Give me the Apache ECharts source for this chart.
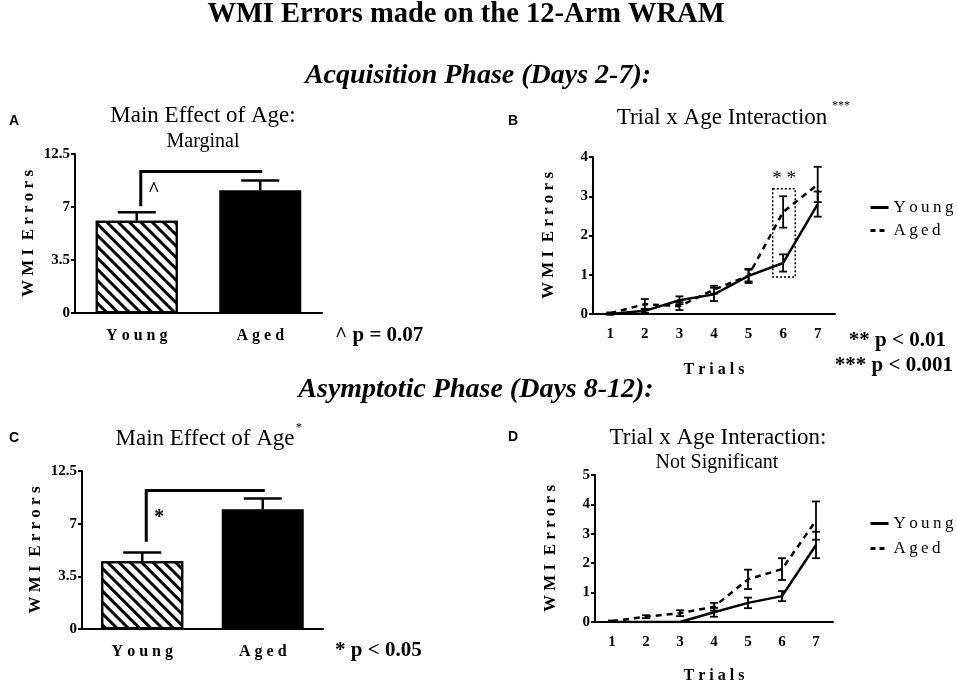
<!DOCTYPE html>
<html>
<head>
<meta charset="utf-8">
<script src="https://cdn.jsdelivr.net/npm/echarts@6/dist/echarts.min.js"></script>
<style>html,body{margin:0;padding:0;background:#fff}#chart{width:957px;height:685px}</style>
</head>
<body>
<div id="chart"></div>
<script>
// bar panels (A = acquisition, C = asymptotic)
var groups = ['Young', 'Aged'];
var barTicks = ['0', '3.5', '7', '12.5'];   // labels as printed on the original axis
var acqMeans = [6.1, 8.1];
var acqErr = [0.55, 0.65];
var asyMeans = [4.5, 7.95];
var asyErr = [0.58, 0.72];
var acqBracket = [7.05, 9.35];   // start above Young, top of bracket
var asyBracket = [5.8, 9.2];

// line panels (B, D)
var trials = ['1', '2', '3', '4', '5', '6', '7'];
var acqYoung = [0, 0.08, 0.35, 0.5, 0.97, 1.3, 2.8];
var acqYoungErr = [0.02, 0.05, 0.1, 0.17, 0.18, 0.22, 0.32];
var acqAged = [0.02, 0.25, 0.2, 0.62, 0.98, 2.6, 3.3];
var acqAgedErr = [0.02, 0.13, 0.1, 0.1, 0.15, 0.4, 0.45];
var asyYoung = [0, 0, 0, 0.33, 0.65, 0.88, 2.62];
var asyYoungErr = [0, 0, 0, 0.15, 0.18, 0.17, 0.45];
var asyAged = [0.03, 0.18, 0.3, 0.52, 1.45, 1.8, 3.45];
var asyAgedErr = [0.02, 0.05, 0.1, 0.13, 0.33, 0.37, 0.65];
var sigBox = [5, 0.94, 3.19];   // trial index, low, high

var SERIF = '"Liberation Serif", "DejaVu Serif", serif';
var SANS = '"Liberation Sans", Arial, sans-serif';
var spaced = function (s) { return s.split('').join(' '); };
var thin = function (s) { return s.split('').join('\u2009'); };

var chart = echarts.init(document.getElementById('chart'));

function yAxisOf(grid, max, interval, labels) {
  return {
    type: 'value', gridIndex: grid, min: 0, max: max, interval: interval,
    name: 'W M I  E r r o r s', nameLocation: 'middle', nameGap: grid % 2 ? 36 : 38,
    nameTextStyle: {fontFamily: SERIF, fontWeight: 'bold', fontSize: 17, color: '#000'},
    axisLine: {show: true, lineStyle: {color: '#000', width: 2}},
    axisTick: {show: true, length: 4, lineStyle: {color: '#000', width: 2}},
    splitLine: {show: false},
    axisLabel: {
      fontFamily: SERIF, fontWeight: 'bold', fontSize: 15, color: '#000', margin: 5,
      formatter: labels ? function (v) { return labels[Math.round(v / interval)]; } : null
    }
  };
}

function barX(grid) {
  return {
    type: 'category', gridIndex: grid, data: groups,
    axisLine: {lineStyle: {color: '#000', width: 2}},
    axisTick: {show: false},
    axisLabel: {fontFamily: SERIF, fontWeight: 'bold', fontSize: 16, color: '#000', margin: 15,
      formatter: spaced}
  };
}

function lineX(grid, gap) {
  return {
    type: 'category', gridIndex: grid, data: trials, boundaryGap: true,
    name: 'T r i a l s', nameLocation: 'middle', nameGap: gap,
    nameTextStyle: {fontFamily: SERIF, fontWeight: 'bold', fontSize: 16, color: '#000'},
    axisLine: {lineStyle: {color: '#000', width: 2}},
    axisTick: {alignWithLabel: true, length: 4, lineStyle: {color: '#000', width: 2}},
    axisLabel: {fontFamily: SERIF, fontWeight: 'bold', fontSize: 15, color: '#000', margin: 13}
  };
}

function barData(means) {
  return [
    {value: means[0], itemStyle: {color: '#fff', borderColor: '#000', borderWidth: 2,
      decal: {symbol: 'rect', symbolSize: 1, color: '#000', dashArrayX: [1, 0], dashArrayY: [3, 5],
        rotation: Math.PI / 4}}},
    {value: means[1], itemStyle: {color: '#000', borderColor: '#000', borderWidth: 2}}
  ];
}

// error bars; upOnly for the bar panels
function errRender(capW, upOnly) {
  return function (params, api) {
    var x = api.value(0), m = api.value(1), e = api.value(2);
    if (!e) return;
    var top = api.coord([x, m + e]);
    var bot = api.coord([x, upOnly ? m : m - e]);
    var st = {stroke: '#000', lineWidth: upOnly ? 2.5 : 1.8};
    var kids = [
      {type: 'line', shape: {x1: top[0], y1: top[1], x2: bot[0], y2: bot[1]}, style: st},
      {type: 'line', shape: {x1: top[0] - capW, y1: top[1], x2: top[0] + capW, y2: top[1]}, style: st}
    ];
    if (!upOnly) kids.push({type: 'line', shape: {x1: bot[0] - capW, y1: bot[1], x2: bot[0] + capW, y2: bot[1]}, style: st});
    return {type: 'group', children: kids};
  };
}

function errSeries(grid, means, errs, capW, upOnly) {
  return {
    type: 'custom', xAxisIndex: grid, yAxisIndex: grid, z: 5,
    renderItem: errRender(capW, upOnly),
    data: means.map(function (m, i) { return [i, m, errs[i]]; })
  };
}

function bracketSeries(grid, br, mark) {
  return {
    type: 'custom', xAxisIndex: grid, yAxisIndex: grid, z: 6,
    renderItem: function (params, api) {
      var a = api.coord([0, api.value(0)]);
      var b = api.coord([0, api.value(1)]);
      var c = api.coord([1, api.value(1)]);
      return {type: 'group', children: [
        {type: 'polyline', shape: {points: [[a[0] + 4, a[1]], [b[0] + 4, b[1]], [c[0] + 2, c[1]]]},
          style: {stroke: '#000', lineWidth: 3, fill: null}},
        {type: 'text', style: {text: mark, x: a[0] + 17, y: (a[1] + b[1]) / 2 + 2, align: 'center',
          verticalAlign: 'middle', font: 'bold 20px ' + SERIF, fill: '#000'}}
      ]};
    },
    data: [br]
  };
}

function lineSeries(grid, name, vals, dashed) {
  return {
    type: 'line', name: name, xAxisIndex: grid, yAxisIndex: grid, data: vals,
    symbol: 'none', z: 3,
    lineStyle: {color: '#000', width: 2.5, type: dashed ? [6, 5] : 'solid'},
    itemStyle: {color: '#000'}
  };
}

function txt(text, x, y, font, align) {
  return {type: 'text', style: {text: text, x: x, y: y, font: font, fill: '#000',
    align: align || 'center', verticalAlign: 'middle'}};
}

var legendBase = {
  orient: 'vertical', left: 864, itemWidth: 18, itemHeight: 12, itemGap: 6,
  data: [
    {name: 'Young', itemStyle: {opacity: 0}, lineStyle: {width: 3, type: 'solid'}},
    {name: 'Aged', itemStyle: {opacity: 0}, lineStyle: {width: 3, type: [5, 4]}}
  ],
  selectedMode: false, formatter: thin,
  textStyle: {fontFamily: SERIF, fontSize: 17, color: '#000'}
};

var option = {
  backgroundColor: '#fff',
  animation: false,
  grid: [
    {left: 75, top: 154, width: 247, height: 159},
    {left: 593, top: 157, width: 242, height: 157},
    {left: 82, top: 471, width: 241, height: 158},
    {left: 595, top: 475, width: 238, height: 156}
  ],
  xAxis: [barX(0), lineX(1, 48), barX(2), lineX(3, 46)],
  yAxis: [yAxisOf(0, 10.5, 3.5, barTicks), yAxisOf(1, 4, 1), yAxisOf(2, 10.5, 3.5, barTicks), yAxisOf(3, 5, 1)],
  legend: [
    Object.assign({}, legendBase, {top: 194}),
    Object.assign({}, legendBase, {top: 510, itemGap: 8})
  ],
  series: [
    {type: 'bar', xAxisIndex: 0, yAxisIndex: 0, barWidth: 82, data: barData(acqMeans)},
    errSeries(0, acqMeans, acqErr, 19, true),
    bracketSeries(0, acqBracket, '^'),
    {type: 'bar', xAxisIndex: 2, yAxisIndex: 2, barWidth: 82, data: barData(asyMeans)},
    errSeries(2, asyMeans, asyErr, 19, true),
    bracketSeries(2, asyBracket, '*'),

    lineSeries(1, 'Young', acqYoung, false),
    lineSeries(1, 'Aged', acqAged, true),
    errSeries(1, acqYoung, acqYoungErr, 4, false),
    errSeries(1, acqAged, acqAgedErr, 4, false),
    {
      type: 'custom', xAxisIndex: 1, yAxisIndex: 1, z: 6,
      renderItem: function (params, api) {
        var w = api.size([1, 0])[0];
        var lo = api.coord([api.value(0), api.value(1)]);
        var hi = api.coord([api.value(0), api.value(2)]);
        var x0 = lo[0] - w * 0.3, x1 = lo[0] + w * 0.35;
        return {type: 'group', children: [
          {type: 'rect', shape: {x: x0, y: hi[1], width: x1 - x0, height: lo[1] - hi[1]},
            style: {stroke: '#000', lineWidth: 1.5, lineDash: [2, 2], fill: null}},
          {type: 'text', style: {text: '* *', x: (x0 + x1) / 2, y: hi[1] - 10, align: 'center',
            verticalAlign: 'middle', font: '19px ' + SERIF, fill: '#000'}}
        ]};
      },
      data: [sigBox]
    },

    lineSeries(3, 'Young', asyYoung, false),
    lineSeries(3, 'Aged', asyAged, true),
    errSeries(3, asyYoung, asyYoungErr, 4, false),
    errSeries(3, asyAged, asyAgedErr, 4, false)
  ],
  graphic: [
    txt('WMI Errors made on the 12-Arm WRAM', 466, 15, 'bold 28.5px ' + SERIF),
    txt('Acquisition Phase (Days 2-7):', 478, 76, 'italic bold 28px ' + SERIF),
    txt('Asymptotic Phase (Days 8-12):', 476, 390, 'italic bold 28px ' + SERIF),

    txt('A', 14, 121, 'bold 14px ' + SANS),
    txt('Main Effect of Age:', 203, 116, '23px ' + SERIF),
    txt('Marginal', 203, 142, '20px ' + SERIF),
    txt('^ p = 0.07', 335, 336, 'bold 21px ' + SERIF, 'left'),

    txt('B', 513, 121, 'bold 14px ' + SANS),
    txt('Trial x Age Interaction', 722, 118, '23px ' + SERIF),
    txt('***', 841, 106, '12px ' + SERIF),
    txt('** p < 0.01', 946, 341, 'bold 21px ' + SERIF, 'right'),
    txt('*** p < 0.001', 953, 366, 'bold 21px ' + SERIF, 'right'),

    txt('C', 14, 438, 'bold 14px ' + SANS),
    txt('Main Effect of Age', 205, 439, '23px ' + SERIF),
    txt('*', 299, 428, '13px ' + SERIF),
    txt('* p < 0.05', 335, 651, 'bold 21px ' + SERIF, 'left'),

    txt('D', 513, 437, 'bold 14px ' + SANS),
    txt('Trial x Age Interaction:', 718, 438, '23px ' + SERIF),
    txt('Not Significant', 717, 463, '20px ' + SERIF)
  ]
};

chart.setOption(option);
</script>
</body>
</html>
